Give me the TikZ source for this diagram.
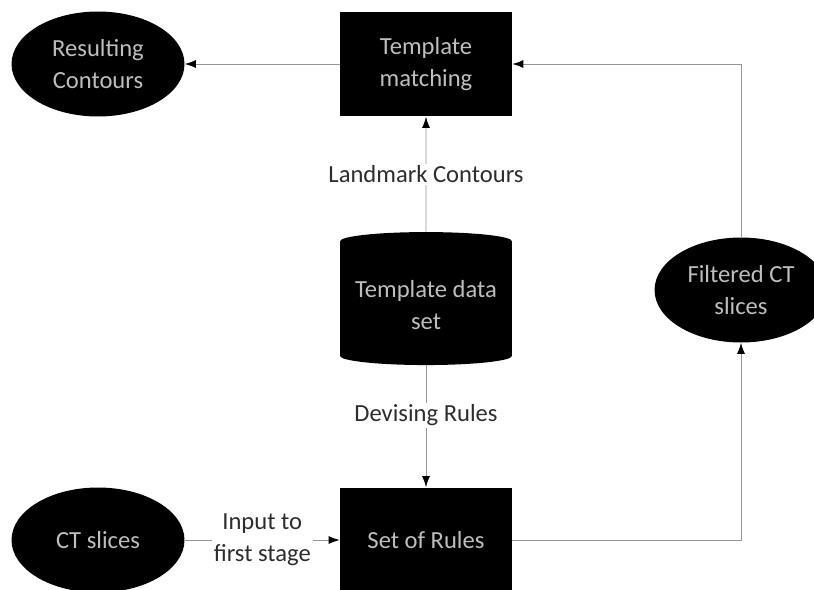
\documentclass[tikz,border=0pt]{standalone}
\usepackage{fontspec}
\setmainfont{Carlito}
\usetikzlibrary{shapes.geometric, arrows.meta}
\definecolor{boxtext}{RGB}{190,190,190}
\definecolor{labeltext}{RGB}{45,45,45}
\definecolor{wire}{RGB}{150,150,150}

\begin{document}
\begin{tikzpicture}[x=0.02cm, y=-0.02cm,
    every node/.style={font=\fontsize{14}{18}\selectfont, align=center},
    blackbox/.style={fill=black, text=boxtext, minimum width=3.44cm, minimum height=2.1cm},
    blackoval/.style={ellipse, fill=black, text=boxtext, minimum width=3.46cm, minimum height=2.1cm, inner sep=0pt},
    store/.style={cylinder, shape border rotate=90, fill=black, text=boxtext, minimum width=3.44cm, minimum height=2.66cm, aspect=0.12},
    wirelabel/.style={fill=white, text=labeltext, inner sep=1pt},
    flow/.style={draw=wire, line width=0.5pt, -{Latex[length=2.2mm, width=1.6mm, black]}}]
    \useasboundingbox (0,0) rectangle (814,589);
    \clip (0,0) rectangle (814,589);
    \node(match)[blackbox] at (426,64) {Template\\matching};
    \node(result)[blackoval] at (98,64) {Resulting\\Contours};
    \node(dataset)[store] at (426,305) {Template data\\set};
    \node(rules)[blackbox] at (426,540) {Set of Rules};
    \node(ct)[blackoval] at (98,540) {CT slices};
    \node(filtered)[blackoval] at (741,290) {Filtered CT\\slices};
    \coordinate(corner1) at (741,540);
    \coordinate(corner2) at (741,64);
    \draw[flow] (match) -- (result);
    \draw[flow] (dataset) -- (match)
        node[wirelabel, pos=0.5] {Landmark Contours};
    \draw[flow] (dataset) -- (rules)
        node[wirelabel, pos=0.41] {Devising Rules};
    \draw[flow] (ct) -- (rules)
        node[wirelabel, pos=0.5] {Input to\\first stage};
    \draw[flow] (rules) -- (corner1) -- (filtered);
    \draw[flow] (filtered) -- (corner2) -- (match);
\end{tikzpicture}
\end{document}
